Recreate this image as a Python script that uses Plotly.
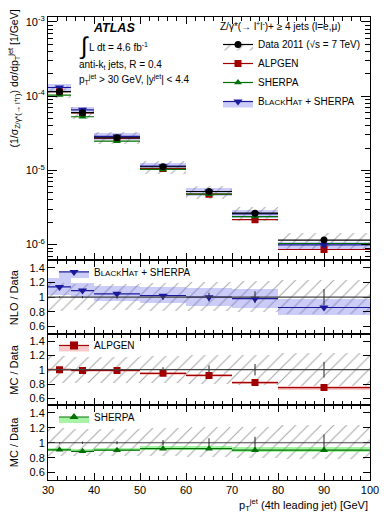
import plotly.graph_objects as go
from plotly.subplots import make_subplots

# bins of 4th leading jet pT [GeV]
bin_lo = [30, 35, 40, 50, 60, 70, 80]
bin_hi = [35, 40, 50, 60, 70, 80, 100]
bin_mid = [32.5, 37.5, 45, 55, 65, 75, 90]

# normalised cross section [1/GeV]
data = [1.15e-4, 6.0e-5, 2.75e-5, 1.12e-5, 5.2e-6, 2.65e-6, 1.15e-6]
data_stat = [0.01, 0.015, 0.02, 0.035, 0.06, 0.08, 0.11]   # relative
data_syst = [0.19, 0.18, 0.18, 0.19, 0.20, 0.21, 0.23]     # relative
alpgen = [1.15e-4, 5.94e-5, 2.72e-5, 1.06e-5, 4.78e-6, 2.17e-6, 8.6e-7]
sherpa = [1.035e-4, 5.28e-5, 2.48e-5, 1.03e-5, 4.78e-6, 2.39e-6, 1.035e-6]
blackhat = [1.31e-4, 6.54e-5, 2.87e-5, 1.14e-5, 5.2e-6, 2.6e-6, 9.9e-7]

# ratios to data
bh_ratio = [1.14, 1.09, 1.045, 1.02, 1.0, 0.98, 0.86]
bh_unc = [0.11, 0.10, 0.10, 0.11, 0.12, 0.13, 0.11]
alp_ratio = [1.0, 0.99, 0.99, 0.95, 0.92, 0.82, 0.75]
alp_unc = [0.02, 0.02, 0.02, 0.025, 0.025, 0.025, 0.03]
she_ratio = [0.905, 0.885, 0.90, 0.92, 0.92, 0.90, 0.90]
she_unc = [0.02, 0.02, 0.02, 0.025, 0.025, 0.03, 0.03]

half = [(h - l) / 2 for l, h in zip(bin_lo, bin_hi)]
width = [h - l for l, h in zip(bin_lo, bin_hi)]

FONT = "Liberation Sans, Arial, sans-serif"
BLUE = "#1a1a9a"
BLUE_BAND = "rgba(110,110,235,0.35)"
RED = "#a00000"
RED_BAND = "rgba(240,80,80,0.3)"
GREEN = "#007000"
GREEN_BAND = "rgba(60,230,60,0.45)"
HATCH = dict(shape="/", fgcolor="#555555", bgcolor="rgba(0,0,0,0)", size=9, solidity=0.12)
BH_NAME = "B<span style='font-size:8px'>LACK</span>H<span style='font-size:8px'>AT</span> + SHERPA"

# the page body has an 8px margin, so the figure is 8px smaller than the window
OFF = 8
W, HT = 390 - OFF, 520 - OFF
L, R, T, B = 48 - OFF, 390 - 370, 14 - OFF, 520 - 480

fig = make_subplots(rows=4, cols=1, shared_xaxes=True, vertical_spacing=0,
                    row_heights=[245, 74, 72, 75])

# ---------- top panel ----------
fig.add_trace(go.Bar(x=bin_mid, width=width,
                     base=[d * (1 - s) for d, s in zip(data, data_syst)],
                     y=[d * 2 * s for d, s in zip(data, data_syst)],
                     marker=dict(color="rgba(0,0,0,0)", pattern=HATCH, line_width=0),
                     showlegend=False), row=1, col=1)
bh_abs_unc = [b * u for b, u in zip(blackhat, bh_unc)]
fig.add_trace(go.Bar(x=bin_mid, width=width,
                     base=[b - u for b, u in zip(blackhat, bh_abs_unc)],
                     y=[2 * u for u in bh_abs_unc],
                     marker=dict(color=BLUE_BAND, line_width=0),
                     showlegend=False), row=1, col=1)


def step_points(y, color, symbol, size=7, row=1):
    fig.add_trace(go.Scatter(x=bin_mid, y=y, mode="markers",
                             marker=dict(color=color, symbol=symbol, size=size),
                             error_x=dict(type="data", array=half, width=0,
                                          color=color, thickness=1.2),
                             showlegend=False), row=row, col=1)


step_points(alpgen, RED, "square")
step_points(sherpa, GREEN, "triangle-up")
step_points(blackhat, BLUE, "triangle-down", 8)
step_points(data, "black", "circle")

# legend entries (top panel)
fig.add_trace(go.Scatter(x=[None], y=[None], mode="lines+markers", name="Data 2011 (\u221as = 7 TeV)",
                         fill="toself", fillcolor="rgba(0,0,0,0)", fillpattern=HATCH,
                         line=dict(color="black", width=1.2),
                         marker=dict(color="black", symbol="circle", size=7)), row=1, col=1)
fig.add_trace(go.Scatter(x=[None], y=[None], mode="lines+markers", name="ALPGEN",
                         line=dict(color=RED, width=1.2),
                         marker=dict(color=RED, symbol="square", size=7)), row=1, col=1)
fig.add_trace(go.Scatter(x=[None], y=[None], mode="lines+markers", name="SHERPA",
                         line=dict(color=GREEN, width=1.2),
                         marker=dict(color=GREEN, symbol="triangle-up", size=7)), row=1, col=1)
fig.add_trace(go.Scatter(x=[None], y=[None], mode="lines+markers", name=BH_NAME,
                         fill="toself", fillcolor=BLUE_BAND,
                         line=dict(color=BLUE, width=1.2),
                         marker=dict(color=BLUE, symbol="triangle-down", size=8)), row=1, col=1)


# ---------- ratio panels ----------
def ratio_panel(row, ratio, unc, color, band, symbol, name, leg):
    fig.add_trace(go.Bar(x=bin_mid, width=width,
                         base=[1 - s for s in data_syst], y=[2 * s for s in data_syst],
                         marker=dict(color="rgba(0,0,0,0)", pattern=HATCH, line_width=0),
                         showlegend=False), row=row, col=1)
    fig.add_trace(go.Bar(x=bin_mid, width=width,
                         base=[r - u for r, u in zip(ratio, unc)], y=[2 * u for u in unc],
                         marker=dict(color=band, line_width=0),
                         showlegend=False), row=row, col=1)
    fig.add_trace(go.Scatter(x=bin_mid, y=[1] * len(bin_mid), mode="markers",
                             marker=dict(size=1, color="black"),
                             error_y=dict(type="data", array=data_stat, width=0,
                                          color="#222222", thickness=1),
                             showlegend=False), row=row, col=1)
    step_points(ratio, color, symbol, 8 if symbol == "triangle-down" else 7, row)
    fig.add_trace(go.Scatter(x=[None], y=[None], mode="lines+markers", name=name,
                             fill="toself", fillcolor=band, legend=leg,
                             line=dict(color=color, width=1.2),
                             marker=dict(color=color, symbol=symbol, size=8)), row=row, col=1)
    fig.add_hline(y=1, line=dict(color="#444444", width=1.2), row=row, col=1)


ratio_panel(2, bh_ratio, bh_unc, BLUE, BLUE_BAND, "triangle-down", BH_NAME, "legend2")
ratio_panel(3, alp_ratio, alp_unc, RED, RED_BAND, "square", "ALPGEN", "legend3")
ratio_panel(4, she_ratio, she_unc, GREEN, GREEN_BAND, "triangle-up", "SHERPA", "legend4")

# ---------- axes ----------
axis_common = dict(showline=True, linecolor="black", linewidth=1, mirror="allticks",
                   ticks="inside", tickcolor="black", showgrid=False, zeroline=False,
                   tickfont=dict(size=11, family=FONT, color="black"))
for r in range(1, 5):
    fig.update_xaxes(range=[30, 100], tickvals=[30, 40, 50, 60, 70, 80, 90, 100],
                     ticklen=7, minor=dict(ticks="inside", dtick=2, ticklen=4, tickcolor="black"),
                     showticklabels=(r == 4), row=r, col=1, **axis_common)
    if r > 1:
        fig.update_yaxes(range=[0.5, 1.5], tickvals=[0.6, 0.8, 1, 1.2, 1.4],
                         ticktext=["0.6", "0.8", "1", "1.2", "1.4"], ticklen=7,
                         row=r, col=1, **axis_common)

dec = [1e-6, 1e-5, 1e-4, 1e-3]
minor_vals = [m * d for d in [1e-7] + dec for m in range(2, 10)]
fig.update_yaxes(type="log", range=[-6.213, -2.933], tickvals=dec,
                 ticktext=["10<sup>-6</sup>", "10<sup>-5</sup>", "10<sup>-4</sup>", "10<sup>-3</sup>"],
                 ticklen=9, minor=dict(ticks="inside", tickvals=minor_vals, ticklen=5, tickcolor="black"),
                 row=1, col=1, **axis_common)

# ---------- text ----------
# positions below are given in window pixels of the reference
PH = 466.0


def py(px_y):
    return (480 - px_y) / PH


def px_x(px):
    return (px - 48) / 322.0


ann = [
    dict(x=px_x(91), y=py(25), text="<b><i>ATLAS</i></b>", size=12.5),
    dict(x=px_x(77), y=py(43), text="\u222b", size=24),
    dict(x=px_x(87), y=py(44), text="L dt = 4.6 fb<sup>-1</sup>", size=10),
    dict(x=px_x(77), y=py(62), text="anti-k<sub>t</sub> jets, R = 0.4", size=10),
    dict(x=px_x(77), y=py(77), text="p<sub>T</sub><sup>jet</sup> > 30 GeV, |y<sup>jet</sup>| < 4.4", size=10),
]
for a in ann:
    fig.add_annotation(x=a["x"], y=a["y"], xref="paper", yref="paper", text=a["text"],
                       showarrow=False, xanchor="left", yanchor="middle", align="left",
                       font=dict(size=a["size"], family=FONT, color="black"))

ytitles = [
    (py(76), 10.5, "(1/\u03c3<sub>Z/\u03b3*(\u2192 l<sup>+</sup>l<sup>-</sup>)</sub>) d\u03c3/dp<sub>T</sub><sup>jet</sup> [1/GeV]"),
    (py(296), 11, "NLO / Data"),
    (py(369), 11, "MC / Data"),
    (py(442), 11, "MC / Data"),
]
for yy, fs, t in ytitles:
    fig.add_annotation(x=px_x(14), y=yy, xref="paper", yref="paper", text=t, textangle=-90,
                       showarrow=False, xanchor="center", yanchor="middle",
                       font=dict(size=fs, family=FONT, color="black"))

fig.add_annotation(x=1, y=py(505), xref="paper", yref="paper",
                   text="p<sub>T</sub><sup>jet</sup> (4th leading jet) [GeV]",
                   showarrow=False, xanchor="right", yanchor="middle", align="right",
                   font=dict(size=11, family=FONT, color="black"))

leg_common = dict(bgcolor="rgba(0,0,0,0)", borderwidth=0, itemwidth=30,
                  font=dict(size=10, family=FONT, color="black"), xanchor="left", yanchor="top",
                  tracegroupgap=0)
fig.update_layout(
    width=W, height=HT,
    margin=dict(l=L, r=R, t=T, b=B),
    plot_bgcolor="white", paper_bgcolor="white",
    barmode="overlay", bargap=0,
    font=dict(family=FONT, color="black"),
    legend=dict(x=px_x(218), y=py(14),
                title=dict(text="Z/\u03b3*(\u2192 l<sup>+</sup>l<sup>-</sup>)+ \u2265 4 jets (l=e,\u03bc)",
                           font=dict(size=10, family=FONT)),
                **leg_common),
    legend2=dict(x=px_x(54), y=py(256), **leg_common),
    legend3=dict(x=px_x(54), y=py(330), **leg_common),
    legend4=dict(x=px_x(54), y=py(402), **leg_common),
)

fig.write_html("out.html")
